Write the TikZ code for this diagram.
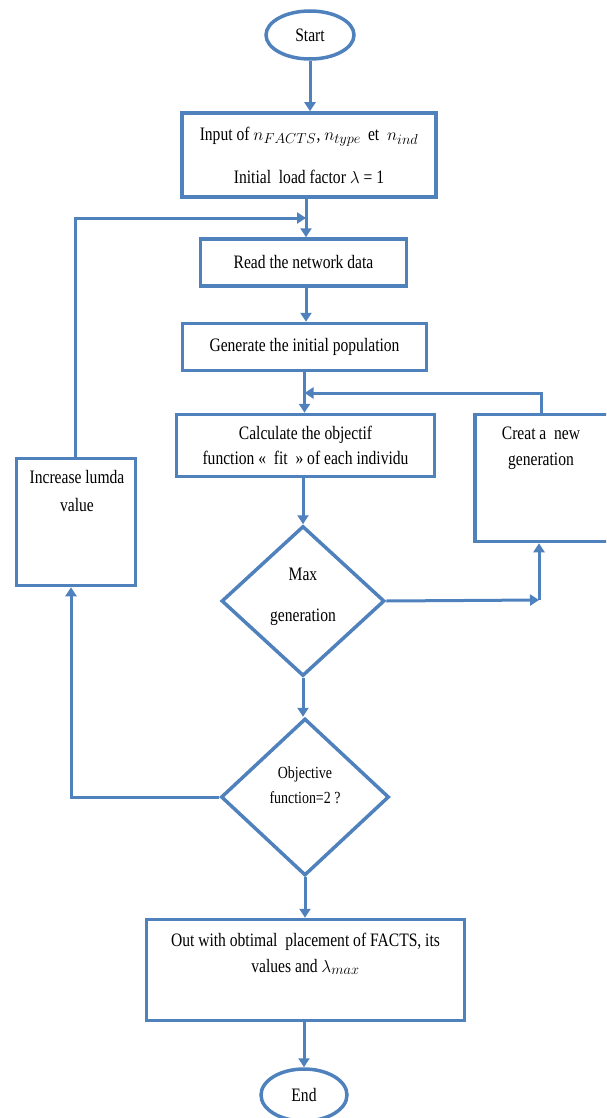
\documentclass[tikz,border=0pt]{standalone}
\usepackage{fontspec}
\setmainfont{Liberation Serif}[FakeStretch=0.82]
\usetikzlibrary{shapes.geometric,arrows.meta}
\definecolor{fblue}{RGB}{79,129,189}
\begin{document}
\begin{tikzpicture}[x=1pt,y=-1pt,
  box/.style={draw=fblue,line width=3.5pt,inner sep=0pt,align=center,fill=white},
  oval/.style={ellipse,draw=fblue,line width=3.5pt,inner sep=0pt},
  dia/.style={diamond,draw=fblue,line width=3.5pt,inner sep=0pt,align=center},
  txt/.style={inner sep=0pt,align=center},
  arr/.style={draw=fblue,line width=3pt,-{Triangle[length=9pt,width=11pt]}},
  every node/.style={font=\fontsize{19}{24}\selectfont}]
\useasboundingbox (0,0) rectangle (606,1118);
\clip (0,0) rectangle (606,1118);

% nodes
\node[oval,minimum width=88pt,minimum height=48pt] (start) at (310,35) {Start};
\node[box,minimum width=254pt,minimum height=84pt,font=\fontsize{19}{43}\selectfont] (input) at (309,155)
  {Input of $n_{FACTS}$, $n_{type}$ \,et \ $n_{ind}$\\Initial \ load factor $\lambda$ = 1};
\node[box,minimum width=206pt,minimum height=47pt] (read) at (303.5,262.5) {Read the network data};
\node[box,minimum width=244pt,minimum height=47pt] (gen) at (304.5,347) {Generate the initial population};
\node[box,minimum width=258pt,minimum height=62pt,font=\fontsize{19}{25}\selectfont] (calc) at (305.5,445.5)
  {Calculate the objectif\\function « \ fit \ » of each individu};
\node[box,minimum width=145pt,minimum height=127pt] (create) at (547.5,478) {};
\node[txt,font=\fontsize{19}{26}\selectfont] (createT) at (541,448) {Creat a \ new\\generation};
\node[box,minimum width=119pt,minimum height=127pt] (inc) at (76,522) {};
\node[txt,font=\fontsize{19}{28}\selectfont] (incT) at (77,491) {Increase lumda\\value};
\node[dia,minimum width=163pt,minimum height=150pt] (max) at (303,601) {};
\node[txt,font=\fontsize{19}{41}\selectfont] (maxT) at (303,597) {Max\\generation};
\node[dia,minimum width=168pt,minimum height=157pt] (obj) at (305,797) {};
\node[txt,font=\fontsize{17}{25}\selectfont] (objT) at (305,785) {Objective\\function=2 ?};
\node[box,minimum width=318pt,minimum height=101pt] (out) at (305.5,970) {};
\node[txt,font=\fontsize{19}{26}\selectfont] (outT) at (305.5,954) {Out with obtimal \ placement of FACTS, its\\values and $\lambda_{max}$};
\node[oval,minimum width=86pt,minimum height=52pt] (end) at (304,1095) {End};

% helper coordinates
\coordinate (mc) at (539,600);
\coordinate (ct) at (541,393);
\coordinate (ic) at (71,797);
\coordinate (rj) at (306,218);

% main flow
\draw[arr] (start.south) -- (start.south |- input.north);
\draw[arr] (input.south -| rj) -- (rj |- read.north);
\draw[arr] (read.south -| rj) -- (rj |- gen.north);
\draw[arr] (gen.south) -- (gen.south |- calc.north);
\draw[arr] (calc.south -| max.north) -- (max.north);
\draw[arr] (max.south) -- (max.south |- obj.north);
\draw[arr] (obj.south) -- (obj.south |- out.north);
\draw[arr] (out.south -| end.north) -- (end.north);

% max generation -> create new generation
\draw[arr] (max.east) -- (mc);
\draw[arr] (mc) -- (mc |- create.south);
\draw[arr] (create.north -| ct) -- (ct) -- (ct -| gen.south);

% objective -> increase lumda -> read network data
\draw[arr] (obj.west) -- (ic) -- (ic |- inc.south);
\draw[arr] (inc.north -| 75,0) |- (rj);
\end{tikzpicture}
\end{document}
